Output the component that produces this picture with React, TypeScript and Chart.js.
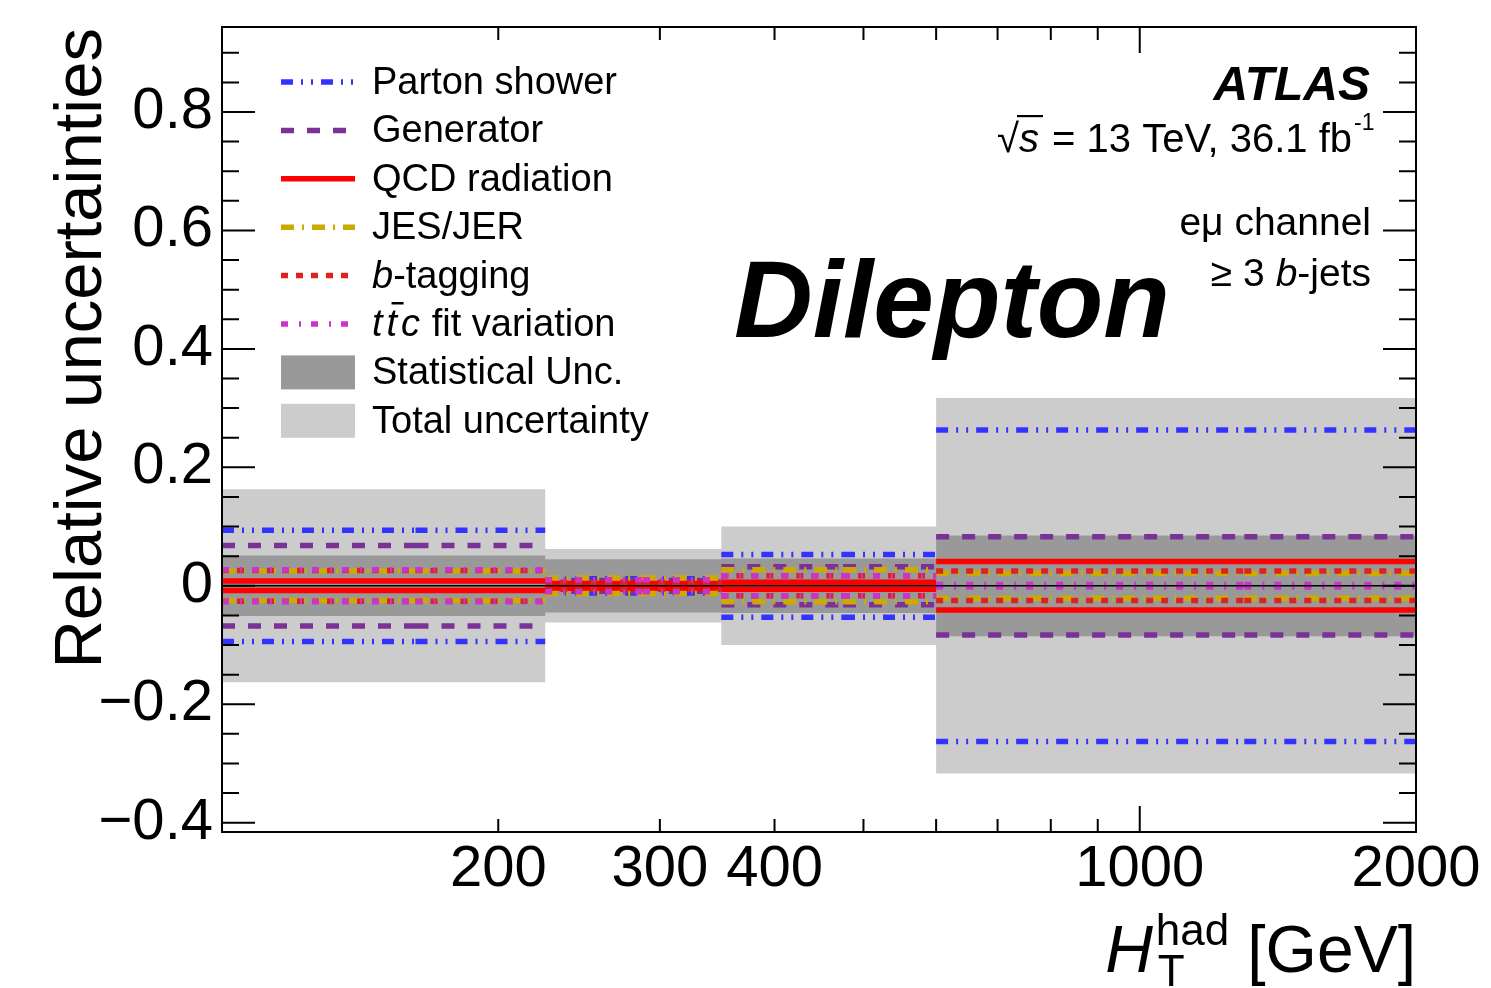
import React, { useEffect, useRef } from 'react';
import { Chart, registerables } from 'chart.js';

Chart.register(...registerables);

// ---------------- data ----------------
const binEdges = [100, 225, 350, 600, 2000];
const partonShower = [0.094, 0.012, 0.053, 0.263];
const generator = [0.068, 0.009, 0.032, 0.083];
const qcdRadiation = [0.008, 0.004, 0.006, 0.041];
const jesJer = [0.025, 0.013, 0.027, 0.021];
const bTagging = [0.026, 0.006, 0.017, 0.025];
const ttcFitVariation = [0.027, 0.010, 0.017, 0.002];
const statUnc = [0.051, 0.045, 0.046, 0.085];
const totalUnc = [0.163, 0.062, 0.100, 0.317];

const xTickValues = [100, 200, 300, 400, 500, 600, 700, 800, 900, 1000, 2000];
const xTickLabels = [200, 300, 400, 1000, 2000];
const yMin = -0.4157;
const yMax = 0.9435;
const yMinorStep = 0.05;
const yMajorStep = 0.2;

// ---------------- styles ----------------
const FONT = '"Liberation Sans", Arial, Helvetica, sans-serif';
const LINE_W = 5.5;

const systematics = [
  { name: 'Parton shower', values: partonShower, color: '#3333ff', dash: [12, 8, 2, 8, 2, 8], order: 60 },
  { name: 'Generator', values: generator, color: '#7b3296', dash: [13, 13], order: 50 },
  { name: 'QCD radiation', values: qcdRadiation, color: '#ff0000', dash: [], order: 40 },
  { name: 'JES/JER', values: jesJer, color: '#ccaa00', dash: [13, 8, 2, 8], order: 30 },
  { name: 'b-tagging', values: bTagging, color: '#dd2222', dash: [7, 8], order: 20 },
  { name: 'ttc fit variation', values: ttcFitVariation, color: '#cc33cc', dash: [7, 11, 2, 10], order: 10 },
];

const bands = [
  { name: 'Total uncertainty', values: totalUnc, color: '#cccccc', order: 100 },
  { name: 'Statistical Unc.', values: statUnc, color: '#999999', order: 90 },
];

// legend rich labels
const legendLabels: { t: string; it?: boolean; bar?: boolean; gap?: number }[][] = [
  [{ t: 'Parton shower' }],
  [{ t: 'Generator' }],
  [{ t: 'QCD radiation' }],
  [{ t: 'JES/JER' }],
  [{ t: 'b', it: true }, { t: '-tagging' }],
  [{ t: 't', it: true, gap: 4 }, { t: 't', it: true, bar: true, gap: 4 }, { t: 'c', it: true, gap: 1 }, { t: ' fit variation' }],
  [{ t: 'Statistical Unc.' }],
  [{ t: 'Total uncertainty' }],
];

function segmentPoints(values: number[], sign: number) {
  const pts: { x: number; y: number | null }[] = [];
  values.forEach((v, i) => {
    const lo = binEdges[i];
    const hi = binEdges[i + 1];
    const mid = (lo + hi) / 2;
    pts.push({ x: lo, y: sign * v }, { x: mid, y: sign * v }, { x: mid, y: null });
    pts.push({ x: mid, y: sign * v }, { x: hi, y: sign * v }, { x: hi, y: null });
  });
  return pts;
}

function bandPoints(values: number[], sign: number) {
  const pts = values.map((v, i) => ({ x: binEdges[i], y: sign * v }));
  pts.push({ x: binEdges[binEdges.length - 1], y: sign * values[values.length - 1] });
  return pts;
}

function isYMajor(v: number) {
  const k = v / yMajorStep;
  return Math.abs(k - Math.round(k)) < 1e-6;
}

function drawRich(
  ctx: CanvasRenderingContext2D,
  parts: { t: string; font: string; gap?: number }[],
  x: number,
  y: number,
  align: 'left' | 'right'
) {
  ctx.textAlign = 'left';
  ctx.textBaseline = 'alphabetic';
  const widths = parts.map((p) => {
    ctx.font = p.font;
    return ctx.measureText(p.t).width + (p.gap || 0);
  });
  const total = widths.reduce((a, b) => a + b, 0);
  let cx = align === 'right' ? x - total : x;
  const spans: { x: number; w: number }[] = [];
  parts.forEach((p, i) => {
    ctx.font = p.font;
    ctx.fillText(p.t, cx, y);
    spans.push({ x: cx, w: widths[i] });
    cx += widths[i];
  });
  return spans;
}

const decorPlugin = {
  id: 'atlasDecor',
  afterDatasetsDraw(chart: any) {
    const ctx: CanvasRenderingContext2D = chart.ctx;
    const { left, right, top, bottom } = chart.chartArea;
    const xs = chart.scales.x;
    const ys = chart.scales.y;
    ctx.save();
    ctx.strokeStyle = '#000';
    ctx.lineWidth = 2;
    ctx.setLineDash([]);
    ctx.beginPath();
    ys.ticks.forEach((t: any) => {
      const py = ys.getPixelForValue(t.value);
      const len = isYMajor(t.value) ? 33 : 17;
      ctx.moveTo(left, py);
      ctx.lineTo(left + len, py);
      ctx.moveTo(right, py);
      ctx.lineTo(right - len, py);
    });
    xs.ticks.forEach((t: any) => {
      const px = xs.getPixelForValue(t.value);
      if (px <= left + 1 || px >= right - 1) return;
      const lg = Math.log10(t.value);
      const len = Math.abs(lg - Math.round(lg)) < 1e-9 ? 26 : 13;
      ctx.moveTo(px, bottom);
      ctx.lineTo(px, bottom - len);
      ctx.moveTo(px, top);
      ctx.lineTo(px, top + len);
    });
    ctx.stroke();
    ctx.strokeRect(left, top, right - left, bottom - top);
    ctx.restore();
  },
  afterDraw(chart: any) {
    const ctx: CanvasRenderingContext2D = chart.ctx;
    const { right } = chart.chartArea;
    ctx.save();
    ctx.fillStyle = '#000';

    // legend
    const lx0 = 281;
    const lx1 = 355;
    const rowTop = 82;
    const rowStep = 48.4;
    const legendItems: any[] = [
      ...systematics.map((s) => ({ kind: 'line', s })),
      { kind: 'box', s: bands[1] },
      { kind: 'box', s: bands[0] },
    ];
    legendItems.forEach((item, i) => {
      const yy = rowTop + i * rowStep;
      if (item.kind === 'line') {
        ctx.strokeStyle = item.s.color;
        ctx.lineWidth = LINE_W;
        ctx.setLineDash(item.s.dash);
        ctx.beginPath();
        ctx.moveTo(lx0, yy);
        ctx.lineTo(lx1, yy);
        ctx.stroke();
        ctx.setLineDash([]);
      } else {
        ctx.fillStyle = item.s.color;
        ctx.fillRect(lx0, yy - 17, lx1 - lx0, 34);
        ctx.fillStyle = '#000';
      }
      const parts = legendLabels[i].map((p) => ({
        t: p.t,
        bar: p.bar,
        gap: p.gap,
        font: `${p.it ? 'italic ' : ''}38px ${FONT}`,
      }));
      const spans = drawRich(ctx, parts, 372, yy + 12, 'left');
      parts.forEach((p, k) => {
        if (p.bar) {
          ctx.fillRect(spans[k].x + 5, yy + 12 - 34, 12, 2.5);
        }
      });
    });

    // ATLAS label
    ctx.textAlign = 'right';
    ctx.textBaseline = 'alphabetic';
    ctx.font = `italic bold 48px ${FONT}`;
    ctx.fillText('ATLAS', 1370, 100);

    // sqrt(s) line
    ctx.font = `23px ${FONT}`;
    ctx.textAlign = 'left';
    ctx.fillText('-1', 1354, 130);
    const sp = drawRich(
      ctx,
      [
        { t: '\u221A', font: `40px ${FONT}` },
        { t: 's', font: `italic 40px ${FONT}`, gap: 2 },
        { t: ' = 13 TeV, 36.1 fb', font: `40px ${FONT}` },
      ],
      1352,
      152,
      'right'
    );
    ctx.fillRect(sp[0].x + sp[0].w - 2, 152 - 37, sp[1].w + 4, 2.2);

    ctx.textAlign = 'right';
    ctx.font = `39px ${FONT}`;
    ctx.fillText('e\u03BC channel', 1371, 235);
    drawRich(
      ctx,
      [
        { t: '\u2265 3 ', font: `39px ${FONT}` },
        { t: 'b', font: `italic 39px ${FONT}` },
        { t: '-jets', font: `39px ${FONT}` },
      ],
      1371,
      286,
      'right'
    );

    // Dilepton
    ctx.textAlign = 'left';
    ctx.font = `italic bold 109px ${FONT}`;
    ctx.fillText('Dilepton', 734, 337);

    // x axis title
    ctx.font = `66px ${FONT}`;
    const gevW = ctx.measureText('[GeV]').width;
    const gevLeft = right - gevW;
    ctx.fillText('[GeV]', gevLeft, 972);
    ctx.font = `44px ${FONT}`;
    const hadW = ctx.measureText('had').width;
    const hadLeft = gevLeft - 18 - hadW;
    ctx.fillText('had', hadLeft, 945);
    ctx.fillText('T', hadLeft + 2, 986);
    ctx.font = `italic 66px ${FONT}`;
    ctx.textAlign = 'right';
    ctx.fillText('H', hadLeft - 3, 972);

    // y axis title
    ctx.save();
    ctx.translate(101, 28);
    ctx.rotate(-Math.PI / 2);
    ctx.textAlign = 'right';
    ctx.font = `67px ${FONT}`;
    ctx.fillText('Relative uncertainties', 0, 0);
    ctx.restore();

    ctx.restore();
  },
};

export default function App() {
  const ref = useRef<HTMLCanvasElement>(null);
  useEffect(() => {
    document.body.style.margin = '0';
    const canvas = ref.current;
    if (!canvas) return;

    const datasets: any[] = [];
    bands.forEach((b) => {
      [1, -1].forEach((sign) => {
        datasets.push({
          label: b.name,
          data: bandPoints(b.values, sign),
          stepped: 'before',
          fill: 'origin',
          backgroundColor: b.color,
          borderColor: 'rgba(0,0,0,0)',
          borderWidth: 0,
          pointRadius: 0,
          order: b.order,
        });
      });
    });
    systematics.forEach((s) => {
      [1, -1].forEach((sign) => {
        datasets.push({
          label: s.name,
          data: segmentPoints(s.values, sign),
          borderColor: s.color,
          borderWidth: LINE_W,
          borderDash: s.dash,
          borderCapStyle: 'butt',
          fill: false,
          spanGaps: false,
          pointRadius: 0,
          order: s.order,
        });
      });
    });
    datasets.push({
      label: 'zero',
      data: [
        { x: binEdges[0], y: 0 },
        { x: binEdges[binEdges.length - 1], y: 0 },
      ],
      borderColor: '#000',
      borderWidth: 1.5,
      fill: false,
      pointRadius: 0,
      order: 0,
    });

    const chart = new Chart(canvas, {
      type: 'line',
      data: { datasets },
      options: {
        animation: false,
        responsive: false,
        devicePixelRatio: 1,
        layout: { padding: { top: 27, right: 75, left: 0, bottom: 0 } },
        plugins: {
          legend: { display: false },
          tooltip: { enabled: false },
        },
        elements: { point: { radius: 0 }, line: { tension: 0 } },
        scales: {
          x: {
            type: 'logarithmic',
            min: binEdges[0],
            max: binEdges[binEdges.length - 1],
            grid: { display: false, drawTicks: false },
            border: { display: false },
            afterBuildTicks: (s: any) => {
              s.ticks = xTickValues.map((v) => ({ value: v }));
            },
            afterFit: (s: any) => {
              s.height = 156;
            },
            ticks: {
              autoSkip: false,
              maxRotation: 0,
              minRotation: 0,
              padding: 9,
              color: '#000',
              font: { family: FONT, size: 58, lineHeight: 1 },
              callback: (v: any) => (xTickLabels.includes(Number(v)) ? String(v) : ''),
            },
          },
          y: {
            type: 'linear',
            min: yMin,
            max: yMax,
            grid: { display: false, drawTicks: false },
            border: { display: false },
            afterFit: (s: any) => {
              s.width = 222;
            },
            ticks: {
              stepSize: yMinorStep,
              includeBounds: false,
              autoSkip: false,
              padding: 9,
              color: '#000',
              font: { family: FONT, size: 58, lineHeight: 0.01 },
              callback: (v: any) => {
                const n = Number(v);
                if (!isYMajor(n)) return '';
                const r = Math.round(n / yMajorStep) * yMajorStep;
                if (Math.abs(r) < 1e-9) return '0';
                const s = Math.abs(r).toFixed(1);
                return r < 0 ? '\u2212' + s : s;
              },
            },
          },
        },
      },
      plugins: [decorPlugin],
    } as any);
    return () => chart.destroy();
  }, []);

  return (
    <div style={{ width: 1491, height: 988 }}>
      <canvas ref={ref} width={1491} height={988} style={{ display: 'block' }} />
    </div>
  );
}
